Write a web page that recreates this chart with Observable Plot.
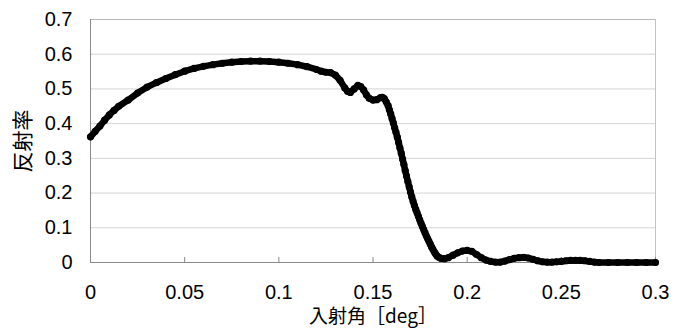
<!DOCTYPE html>
<html>
<head>
<meta charset="utf-8">
<script src="https://cdn.jsdelivr.net/npm/d3@7"></script>
<script src="https://cdn.jsdelivr.net/npm/@observablehq/plot@0.6"></script>
<style>
  html, body { margin: 0; padding: 0; background: #fff; }
  svg { display: block; }
</style>
</head>
<body>
<div id="chart"></div>
<script>
const angle = [
  0, 0.0025, 0.005, 0.0075, 0.01, 0.0125, 0.015, 0.02, 0.025, 0.03, 0.035, 0.04, 0.045, 0.05,
  0.055, 0.06, 0.065, 0.07, 0.075, 0.08, 0.085, 0.09, 0.095, 0.1, 0.105, 0.11, 0.115, 0.12,
  0.1225, 0.125, 0.1275, 0.13, 0.1325, 0.135, 0.1365, 0.138, 0.14, 0.142, 0.1435, 0.145,
  0.1465, 0.148, 0.15, 0.152, 0.154, 0.155, 0.156, 0.157, 0.158,
  0.1587, 0.1594, 0.1601, 0.1608, 0.1615, 0.1622, 0.1629, 0.1636, 0.1643, 0.165, 0.1657,
  0.1664, 0.1671, 0.1678, 0.1685, 0.1692, 0.1699, 0.1706, 0.1713, 0.172, 0.1727, 0.1734,
  0.1741, 0.1748, 0.1755, 0.1762, 0.1769, 0.1776, 0.1783, 0.179, 0.1797, 0.1804, 0.1811,
  0.1818, 0.1825, 0.1832, 0.184, 0.185, 0.186, 0.188, 0.19, 0.1925, 0.195, 0.1975, 0.2,
  0.2025, 0.205, 0.2075, 0.21, 0.2125, 0.215, 0.2175, 0.22, 0.2225, 0.225, 0.2275, 0.23,
  0.2325, 0.235, 0.2375, 0.24, 0.2425, 0.245, 0.2475, 0.25, 0.2525, 0.255, 0.2575, 0.26,
  0.2625, 0.265, 0.2675, 0.27, 0.275, 0.28, 0.285, 0.29, 0.295, 0.3
];
const reflectance = [
  0.362, 0.378, 0.393, 0.410, 0.425, 0.438, 0.450, 0.468, 0.488, 0.505, 0.518, 0.530, 0.541, 0.551,
  0.559, 0.565, 0.570, 0.574, 0.577, 0.579, 0.580, 0.580, 0.579, 0.577, 0.574, 0.570, 0.564, 0.556,
  0.551, 0.548, 0.547, 0.540, 0.525, 0.503, 0.493, 0.490, 0.500, 0.510, 0.507, 0.497,
  0.483, 0.473, 0.468, 0.469, 0.475, 0.476, 0.472, 0.463, 0.452,
  0.440, 0.428, 0.415, 0.402, 0.388, 0.375, 0.361, 0.346, 0.330, 0.315, 0.298,
  0.282, 0.265, 0.249, 0.233, 0.218, 0.203, 0.189, 0.176, 0.164, 0.153, 0.143,
  0.133, 0.123, 0.113, 0.104, 0.095, 0.086, 0.077, 0.069, 0.061, 0.053, 0.045,
  0.038, 0.031, 0.025, 0.019, 0.015, 0.012, 0.011, 0.014, 0.021, 0.028, 0.033, 0.035,
  0.032, 0.023, 0.014, 0.007, 0.003, 0.001, 0.001, 0.004, 0.008, 0.012, 0.014, 0.015,
  0.013, 0.009, 0.005, 0.002, 0.001, 0.001, 0.002, 0.003, 0.005, 0.006, 0.006, 0.006,
  0.005, 0.003, 0.001, 0.0, 0, 0, 0, 0, 0, 0
];
const xTicks = [0, 0.05, 0.1, 0.15, 0.2, 0.25, 0.3];
const yTicks = [0, 0.1, 0.2, 0.3, 0.4, 0.5, 0.6, 0.7];
const xTitle = "入射角［deg］";
const yTitle = "反射率";

const data = angle.map((a, i) => ({a, r: reflectance[i]}));
const font = "'Liberation Sans', Arial, sans-serif";
const cjk = "'Noto Sans CJK JP', sans-serif";

const chart = Plot.plot({
  width: 677,
  height: 329,
  marginLeft: 90,
  marginRight: 22,
  marginTop: 19,
  marginBottom: 67,
  style: {fontFamily: font, background: "#fff", overflow: "visible"},
  x: {domain: [0, 0.3]},
  y: {domain: [0, 0.7]},
  marks: [
    Plot.ruleY(yTicks.slice(1, -1), {stroke: "#d4d4d4", strokeWidth: 1}),
    Plot.ruleY([yTicks[yTicks.length - 1]], {stroke: "#b8b8b8", strokeWidth: 1}),
    Plot.ruleX([xTicks[xTicks.length - 1]], {stroke: "#c4c4c4", strokeWidth: 1}),
    Plot.ruleX([xTicks[0]], {stroke: "#8a8a8a", strokeWidth: 1}),
    Plot.ruleY([yTicks[0]], {stroke: "#8a8a8a", strokeWidth: 1}),
    Plot.axisX(xTicks, {anchor: "top", frameAnchor: "bottom", tickSize: 6, tickFormat: () => "", stroke: "#8a8a8a", label: null}),
    Plot.axisX(xTicks, {anchor: "bottom", tickSize: 0, tickPadding: 22, fontSize: 20, fill: "#000", label: null, tickFormat: d => String(d)}),
    Plot.axisY(yTicks, {anchor: "left", tickSize: 0, tickPadding: 18, fontSize: 20, fill: "#000", label: null, tickFormat: d => String(d)}),
    Plot.line(data, {x: "a", y: "r", stroke: "#000", strokeWidth: 6.5, strokeLinejoin: "round", strokeLinecap: "round"}),
    Plot.dot(data, {x: "a", y: "r", r: 3.6, fill: "#000", stroke: "none"}),
    Plot.text([yTitle], {frameAnchor: "left", dx: -67, rotate: -90, textAnchor: "middle", lineAnchor: "middle", fontSize: 21, fontFamily: cjk, fill: "#000"}),
    Plot.text([xTitle], {frameAnchor: "bottom", dy: 54, textAnchor: "middle", lineAnchor: "middle", fontSize: 19, fontFamily: cjk, fill: "#000"})
  ]
});
document.getElementById("chart").appendChild(chart);
</script>
</body>
</html>
